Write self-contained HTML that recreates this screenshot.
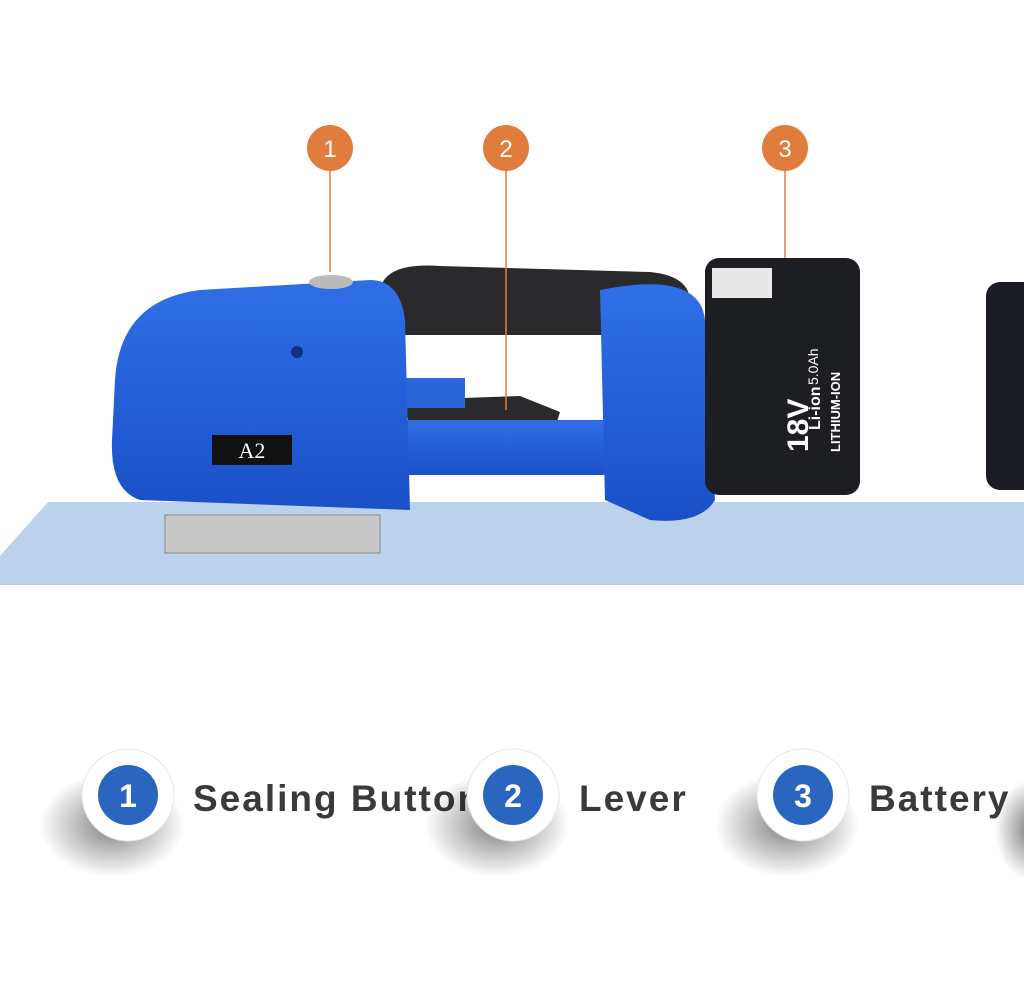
<!DOCTYPE html>
<html><head><meta charset="utf-8"><style>
html,body{margin:0;padding:0;background:#fff;}
body{width:1024px;height:995px;overflow:hidden;position:relative;font-family:"Liberation Sans",sans-serif;}
svg{position:absolute;left:0;top:0;}
</style></head><body>
<svg width="1024" height="995" viewBox="0 0 1024 995">
<defs>
<radialGradient id="sh" cx="0.5" cy="0.5" r="0.5">
<stop offset="0" stop-color="#000" stop-opacity="0.5"/><stop offset="0.6" stop-color="#000" stop-opacity="0.2"/><stop offset="1" stop-color="#000" stop-opacity="0"/>
</radialGradient>
<linearGradient id="bl" x1="0" y1="0" x2="0" y2="1"><stop offset="0" stop-color="#2f6fe6"/><stop offset="1" stop-color="#1a50c8"/></linearGradient>
</defs>
<polygon points="48,502 1024,502 1024,585 0,585 0,556" fill="#bcd2ec"/>
<rect x="165" y="515" width="215" height="38" fill="#c8c8c8" stroke="#888"/>
<rect x="986" y="282" width="60" height="208" rx="14" fill="#1b1d22"/>
<path d="M380,290 Q385,262 440,266 L650,272 Q692,276 690,305 L685,335 L400,335 Z" fill="#2a2a2c"/>
<path d="M405,400 L520,396 L560,412 L555,428 L408,420 Z" fill="#2b2b2d"/>
<rect x="400" y="420" width="210" height="55" rx="8" fill="url(#bl)"/>
<rect x="405" y="378" width="60" height="30" fill="#2a66d8"/>
<path d="M600,290 Q700,270 705,320 L715,500 Q700,525 650,520 L605,500 Z" fill="url(#bl)"/>
<rect x="705" y="258" width="155" height="237" rx="14" fill="#1c1e22"/>
<rect x="712" y="268" width="60" height="30" fill="#e8e8e8"/>
<text transform="translate(808,452) rotate(-90)" fill="#fff" font-size="30" font-weight="bold">18V</text>
<text transform="translate(818,385) rotate(-90)" fill="#fff" font-size="14">5.0Ah</text>
<text transform="translate(820,430) rotate(-90)" fill="#fff" font-size="16" font-weight="bold">Li-ion</text>
<text transform="translate(840,452) rotate(-90)" fill="#fff" font-size="13" font-weight="bold">LITHIUM-ION</text>
<path d="M115,380 Q120,300 200,290 L370,280 Q400,280 405,320 L410,510 L140,500 Q110,490 112,440 Z" fill="url(#bl)"/>
<ellipse cx="331" cy="282" rx="22" ry="7" fill="#bbb"/>
<circle cx="297" cy="352" r="6" fill="#13307a"/>
<rect x="212" y="435" width="80" height="30" fill="#111"/>
<text x="252" y="458" fill="#fff" font-family="Liberation Serif,serif" font-size="22" text-anchor="middle">A2</text>
<g stroke="#e07d3c" stroke-width="1.5">
<line x1="330" y1="170" x2="330" y2="272"/>
<line x1="506" y1="170" x2="506" y2="410"/>
<line x1="785" y1="170" x2="785" y2="258"/>
</g>
<g fill="#e07d3c"><circle cx="330" cy="148" r="23"/><circle cx="506" cy="148" r="23"/><circle cx="785" cy="148" r="23"/></g>
<g fill="#fff" font-size="24" text-anchor="middle"><text x="330" y="157">1</text><text x="506" y="157">2</text><text x="785" y="157">3</text></g>
<g fill="#3a3a3a" font-size="37" font-weight="bold" letter-spacing="2">
<text x="193" y="811">Sealing Button</text>
<text x="579" y="811">Lever</text>
<text x="869" y="811">Battery</text>
</g>
<g>
<ellipse cx="112" cy="825" rx="72" ry="52" fill="url(#sh)"/>
<circle cx="128" cy="795" r="46" fill="#fff" stroke="#e6e6e6"/>
<circle cx="128" cy="795" r="30" fill="#2a66c0"/>
<ellipse cx="497" cy="825" rx="72" ry="52" fill="url(#sh)"/>
<circle cx="513" cy="795" r="46" fill="#fff" stroke="#e6e6e6"/>
<circle cx="513" cy="795" r="30" fill="#2a66c0"/>
<ellipse cx="787" cy="825" rx="72" ry="52" fill="url(#sh)"/>
<circle cx="803" cy="795" r="46" fill="#fff" stroke="#e6e6e6"/>
<circle cx="803" cy="795" r="30" fill="#2a66c0"/>
<ellipse cx="1030" cy="830" rx="35" ry="50" fill="url(#sh)"/>
</g>
<g fill="#fff" font-size="32" font-weight="bold" text-anchor="middle">
<text x="128" y="807">1</text><text x="513" y="807">2</text><text x="803" y="807">3</text>
</g>
</svg>
</body></html>
